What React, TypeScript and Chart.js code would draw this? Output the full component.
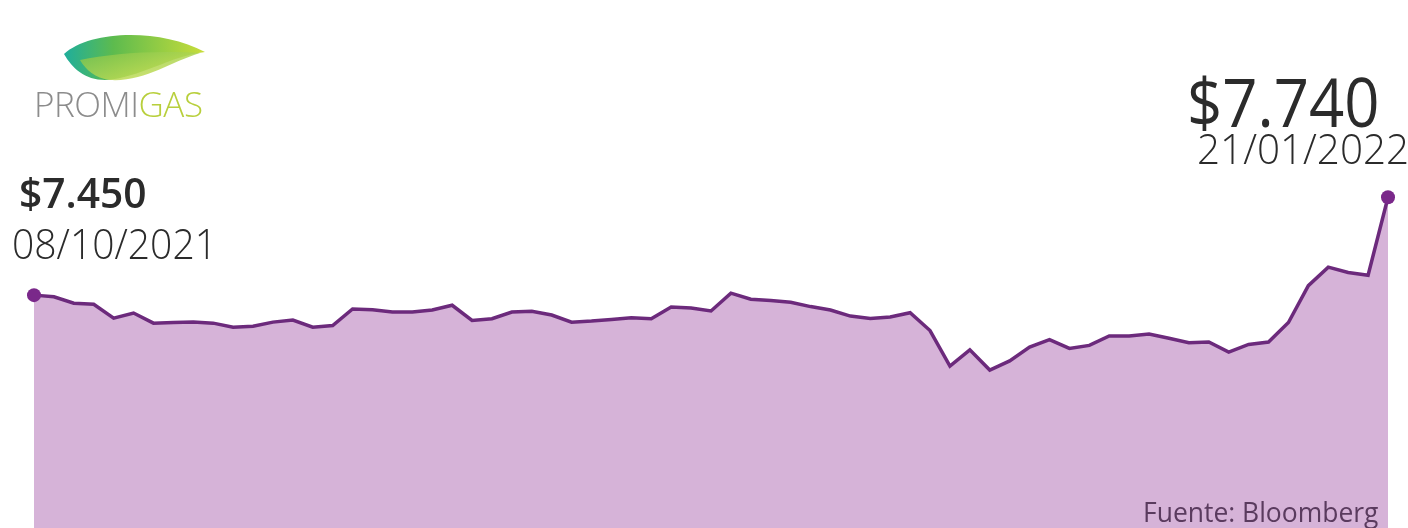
import React, { useEffect, useRef } from "react";
import { Chart, registerables } from "chart.js";

Chart.register(...registerables);

// Daily closing price of Promigas (COP), 08/10/2021 → 21/01/2022
const prices: number[] = [
  7450, 7445, 7426, 7423, 7382, 7397, 7367, 7369, 7370, 7367,
  7355, 7358, 7370, 7376, 7355, 7360, 7409, 7407, 7400, 7400,
  7406, 7420, 7375, 7380, 7400, 7402, 7391, 7370, 7373, 7378,
  7383, 7380, 7415, 7412, 7403, 7456, 7438, 7434, 7429, 7416,
  7406, 7388, 7381, 7385, 7398, 7345, 7240, 7288, 7228, 7255,
  7296, 7318, 7292, 7301, 7329, 7329, 7335, 7322, 7309, 7311,
  7281, 7304, 7311, 7369, 7478, 7533, 7517, 7509, 7740,
];
const labels: string[] = prices.map((_, i) => String(i + 1));

const startPrice = "$7.450";
const startDate = "08/10/2021";
const endPrice = "$7.740";
const endDate = "21/01/2022";
const sourceText = "Fuente: Bloomberg";

const yMin = 6760;
const yMax = 7800;

export default function App() {
  const canvasRef = useRef<HTMLCanvasElement | null>(null);

  useEffect(() => {
    const canvas = canvasRef.current;
    if (!canvas) return;
    const last = prices.length - 1;
    const chart = new Chart(canvas, {
      type: "line",
      data: {
        labels,
        datasets: [
          {
            data: prices,
            borderColor: "#6c2a7c",
            borderWidth: 3.5,
            backgroundColor: "#d6b3d8",
            fill: "start",
            tension: 0,
            clip: false as any,
            pointRadius: (ctx: any) =>
              ctx.dataIndex === 0 || ctx.dataIndex === last ? 7 : 0,
            pointBackgroundColor: "#7a288a",
            pointBorderColor: "#7a288a",
            pointBorderWidth: 0,
          },
        ],
      },
      options: {
        responsive: false,
        animation: false,
        layout: { autoPadding: false, padding: { left: 34, right: 20, top: 177, bottom: 0 } },
        plugins: { legend: { display: false }, tooltip: { enabled: false } },
        scales: {
          x: { display: false, offset: false },
          y: { display: false, min: yMin, max: yMax },
        },
      },
    });
    return () => chart.destroy();
  }, []);

  const font = "'Open Sans', 'Noto Sans', sans-serif";
  const txt = (extra: React.CSSProperties): React.CSSProperties => ({
    position: "absolute",
    fontFamily: font,
    color: "#2b2b2b",
    whiteSpace: "nowrap",
    lineHeight: 1,
    transformOrigin: "left top",
    ...extra,
  });

  return (
    <div
      style={{
        position: "fixed",
        left: 0,
        top: 0,
        width: 1408,
        height: 528,
        background: "#ffffff",
        overflow: "hidden",
      }}
    >
      <canvas ref={canvasRef} width={1408} height={528} style={{ position: "absolute", left: 0, top: 0 }} />

      {/* Logo */}
      <svg width={240} height={90} style={{ position: "absolute", left: 0, top: 20 }}>
        <defs>
          <linearGradient id="lg1" x1="0" y1="0" x2="1" y2="0">
            <stop offset="0" stopColor="#1fae9c" />
            <stop offset="0.35" stopColor="#5dbb4e" />
            <stop offset="1" stopColor="#c9dd3a" />
          </linearGradient>
          <linearGradient id="lg2" x1="0" y1="0" x2="1" y2="1">
            <stop offset="0" stopColor="#7cc24a" />
            <stop offset="1" stopColor="#dbe65a" />
          </linearGradient>
        </defs>
        <path d="M64 34 C 90 10, 160 8, 205 32 C 170 36, 140 58, 105 60 C 85 60, 72 48, 64 34 Z" fill="url(#lg1)" />
        <path d="M80 40 C 110 34, 150 30, 200 33 C 170 42, 145 62, 110 60 C 95 58, 86 50, 80 40 Z" fill="url(#lg2)" opacity={0.85} />
      </svg>
      <div style={txt({ left: 34, top: 86, fontSize: 35, fontWeight: 300, letterSpacing: -0.5 })}>
        <span style={{ color: "#8c8c8c" }}>PROMI</span>
        <span style={{ color: "#b8cf3c" }}>GAS</span>
      </div>

      {/* Start annotation */}
      <div style={txt({ left: 19, top: 171, fontSize: 42, fontWeight: 600, transform: "scaleX(0.97)" })}>
        {startPrice}
      </div>
      <div style={txt({ left: 12, top: 222, fontSize: 42, fontWeight: 300, transform: "scaleX(0.93)" })}>
        {startDate}
      </div>

      {/* End annotation */}
      <div style={txt({ left: 1187, top: 68, fontSize: 67, fontWeight: 400, transform: "scaleX(0.92)" })}>
        {endPrice}
      </div>
      <div style={txt({ left: 1197, top: 126, fontSize: 43, fontWeight: 300, transform: "scaleX(0.94)" })}>
        {endDate}
      </div>

      {/* Source */}
      <div style={txt({ left: 1143, top: 498, fontSize: 27, fontWeight: 400, color: "#5a3b5e", transform: "scaleX(0.98)" })}>
        {sourceText}
      </div>
    </div>
  );
}
